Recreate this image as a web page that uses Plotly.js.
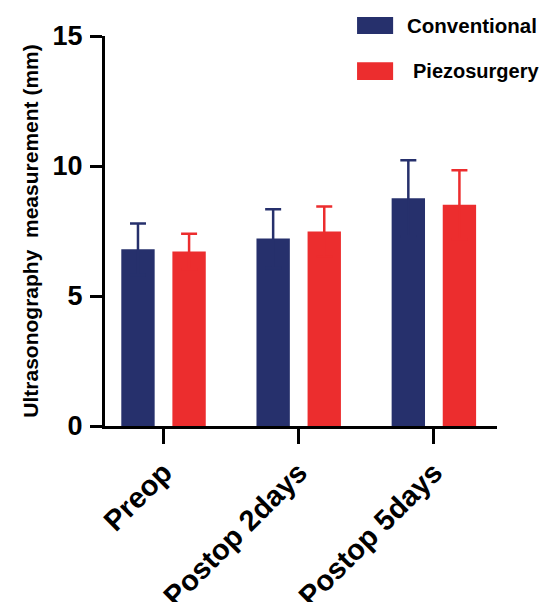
<!DOCTYPE html>
<html><head><meta charset="utf-8">
<script src="https://cdn.plot.ly/plotly-3.0.1.min.js"></script>
<style>html,body{margin:0;padding:0;background:#fff}#chart{width:546px;height:602px}</style>
</head><body><div id="chart"></div>
<script>
var categories = ['Preop', 'Postop 2days', 'Postop 5days'];
var conventionalMean = [6.80, 7.21, 8.76];
var conventionalSD = [0.99, 1.13, 1.46];
var piezoMean = [6.71, 7.48, 8.51];
var piezoSD = [0.68, 0.96, 1.33];
var yTicks = [0, 5, 10, 15];

var navy = '#26306c';
var red = '#ec2d2e';
var font = 'Liberation Sans, Arial, sans-serif';

var traces = [
  {type:'bar', name:'Conventional', x:categories, y:conventionalMean,
   marker:{color:navy, line:{width:0}}, error_y:{type:'data', array:conventionalSD, symmetric:true, color:navy, thickness:2.5, width:8}},
  {type:'bar', name:'Piezosurgery', x:categories, y:piezoMean,
   marker:{color:red, line:{width:0}}, error_y:{type:'data', array:piezoSD, symmetric:true, color:red, thickness:2.5, width:8}}
];

var layout = {
  width:546, height:602,
  margin:{l:105, r:49, t:36, b:176},
  paper_bgcolor:'#fff', plot_bgcolor:'#fff',
  showlegend:false,
  barmode:'group', bargap:0.244, bargroupgap:0.347,
  font:{family:font, color:'#000'},
  xaxis:{range:[-0.433, 2.467], showline:true, linecolor:'#000', linewidth:3,
    ticks:'outside', ticklen:15, tickwidth:3, tickcolor:'#000', tickangle:-45,
    tickfont:{size:29, family:font, weight:'bold'}, showgrid:false, zeroline:false},
  yaxis:{range:[0,15], tickvals:yTicks, ticktext:yTicks.map(String), showline:true, linecolor:'#000', linewidth:3,
    ticks:'outside', ticklen:12, tickwidth:3, tickcolor:'#000', ticklabelstandoff:2,
    tickfont:{size:27, family:font, weight:'bold'}, showgrid:false, zeroline:false,
    title:{text:'Ultrasonography  measurement (mm)', font:{size:21, family:font, weight:'bold'}, standoff:9}},
  shapes:[
    {type:'rect', xref:'paper', yref:'paper', x0:0.643, x1:0.735, y0:1.005, y1:1.049, fillcolor:navy, line:{width:0}},
    {type:'rect', xref:'paper', yref:'paper', x0:0.643, x1:0.735, y0:0.887, y1:0.933, fillcolor:red, line:{width:0}}
  ],
  annotations:[
    {xref:'paper', yref:'paper', x:0.765, y:1.028, xanchor:'left', yanchor:'middle', showarrow:false,
     text:'Conventional', font:{size:20.5, family:font, weight:'bold', color:'#000'}},
    {xref:'paper', yref:'paper', x:0.781, y:0.910, xanchor:'left', yanchor:'middle', showarrow:false,
     text:'Piezosurgery', font:{size:20, family:font, weight:'bold', color:'#000'}}
  ]
};
Plotly.newPlot('chart', traces, layout, {displayModeBar:false, staticPlot:true});
</script></body></html>
